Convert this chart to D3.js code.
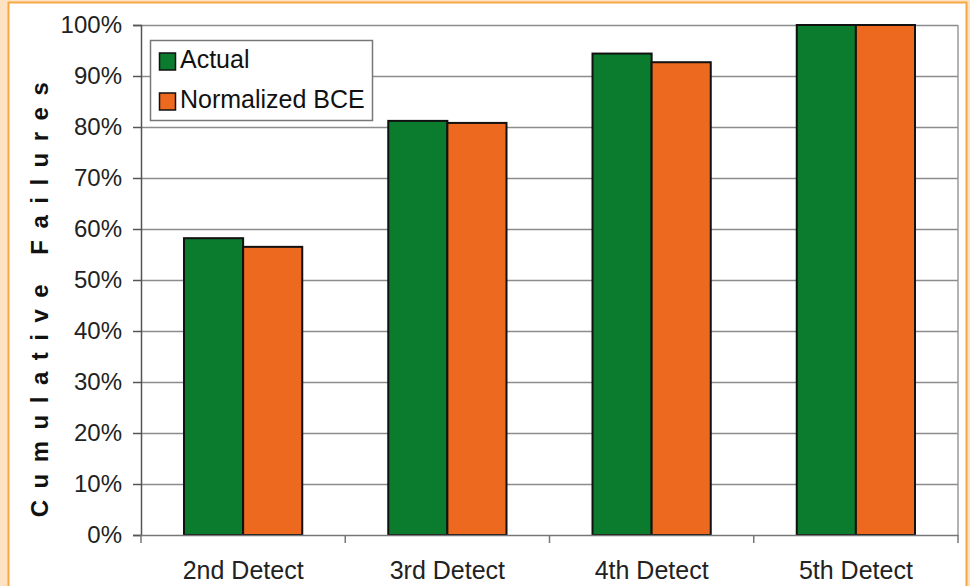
<!DOCTYPE html>
<html lang="en">
<head>
<meta charset="UTF-8">
<script src="https://d3js.org/d3.v7.min.js"></script>
<style>
  body { margin: 0; background: #fde3c4; }
  svg { display: block; font-family: Arial, "Liberation Sans", sans-serif; }
</style>
</head>
<body>
<div id="plot"></div>
<script>
// data
const detects = ["2nd Detect", "3rd Detect", "4th Detect", "5th Detect"];
const seriesNames = ["Actual", "Normalized BCE"];
const actual = [58.2, 81.2, 94.4, 100];
const normalizedBCE = [56.5, 80.8, 92.7, 100];
const yTicks = [0, 10, 20, 30, 40, 50, 60, 70, 80, 90, 100];

const colors = ["#0b7b2d", "#ec691f"];
const width = 970, height = 586;
const margin = {top: 25, right: 12, bottom: 51, left: 141};
const plotW = width - margin.left - margin.right;
const plotH = height - margin.top - margin.bottom;

const svg = d3.select("#plot").append("svg")
  .attr("width", width)
  .attr("height", height);

// frame: beige strip + orange border, white panel
svg.append("rect")
  .attr("x", 8.5).attr("y", 2.5)
  .attr("width", 958).attr("height", 600)
  .attr("fill", "#fff")
  .attr("stroke", "#f6a843").attr("stroke-width", 2);

const g = svg.append("g")
  .attr("transform", `translate(${margin.left},${margin.top})`);

const x0 = d3.scaleBand().domain(detects).range([0, plotW]);
const x1 = d3.scaleBand().domain(seriesNames)
  .range([43, x0.bandwidth() - 43]);
const y = d3.scaleLinear().domain([0, 100]).range([plotH, 0]);

// gridlines
g.append("g").selectAll("line")
  .data(yTicks.filter(d => d > 0))
  .join("line")
    .attr("x1", 0).attr("x2", plotW)
    .attr("y1", d => y(d) + 0.5).attr("y2", d => y(d) + 0.5)
    .attr("stroke", "#8c8c8c").attr("stroke-width", 1.5);

// right plot edge
g.append("line")
  .attr("x1", plotW).attr("x2", plotW)
  .attr("y1", 0).attr("y2", plotH)
  .attr("stroke", "#9a9a9a").attr("stroke-width", 1.5);

// bars
const rows = detects.map((d, i) => ({key: d, vals: [actual[i], normalizedBCE[i]]}));
g.append("g").selectAll("g")
  .data(rows)
  .join("g")
    .attr("transform", d => `translate(${x0(d.key)},0)`)
  .selectAll("rect")
  .data(d => seriesNames.map((s, j) => ({s: s, v: d.vals[j], j: j})))
  .join("rect")
    .attr("x", d => x1(d.s))
    .attr("y", d => y(d.v))
    .attr("width", x1.bandwidth())
    .attr("height", d => plotH - y(d.v))
    .attr("fill", d => colors[d.j])
    .attr("stroke", "#111").attr("stroke-width", 2);

// y axis
const yAxis = g.append("g")
  .call(d3.axisLeft(y).tickValues(yTicks).tickFormat(d => d + "%").tickSize(8).tickPadding(11));
yAxis.select(".domain").attr("stroke", "#555").attr("stroke-width", 1.5);
yAxis.selectAll(".tick line").attr("stroke", "#555").attr("stroke-width", 1.5);
yAxis.selectAll("text").attr("font-size", 24).attr("fill", "#222");

// x axis
const xAxis = g.append("g")
  .attr("transform", `translate(0,${plotH})`)
  .call(d3.axisBottom(x0).tickSize(0).tickPadding(26));
xAxis.select(".domain").attr("stroke", "#777").attr("stroke-width", 1.5);
xAxis.selectAll("text").attr("font-size", 25).attr("fill", "#222");
// tick marks between categories
g.append("g").selectAll("line")
  .data(d3.range(detects.length + 1))
  .join("line")
    .attr("x1", i => i * x0.step()).attr("x2", i => i * x0.step())
    .attr("y1", plotH).attr("y2", plotH + 8)
    .attr("stroke", "#777").attr("stroke-width", 1.5);

// y label
svg.append("text")
  .attr("transform", "translate(48,294) rotate(-90)")
  .attr("text-anchor", "middle")
  .attr("font-size", 24)
  .attr("font-weight", "bold")
  .attr("letter-spacing", "11.5px")
  .attr("fill", "#111")
  .text("Cumulative Failures");

// legend
const leg = svg.append("g").attr("transform", "translate(150,40)");
leg.append("rect")
  .attr("x", 0.5).attr("y", 0.5)
  .attr("width", 222).attr("height", 80)
  .attr("fill", "#fff").attr("stroke", "#777").attr("stroke-width", 1.5);
seriesNames.forEach((s, i) => {
  leg.append("rect")
    .attr("x", 9.5).attr("y", 13 + i * 40)
    .attr("width", 16).attr("height", 17)
    .attr("fill", colors[i]).attr("stroke", "#111").attr("stroke-width", 1.5);
  leg.append("text")
    .attr("x", 30).attr("y", 28 + i * 40)
    .attr("font-size", 25).attr("fill", "#111")
    .text(s);
});
</script>
</body>
</html>
